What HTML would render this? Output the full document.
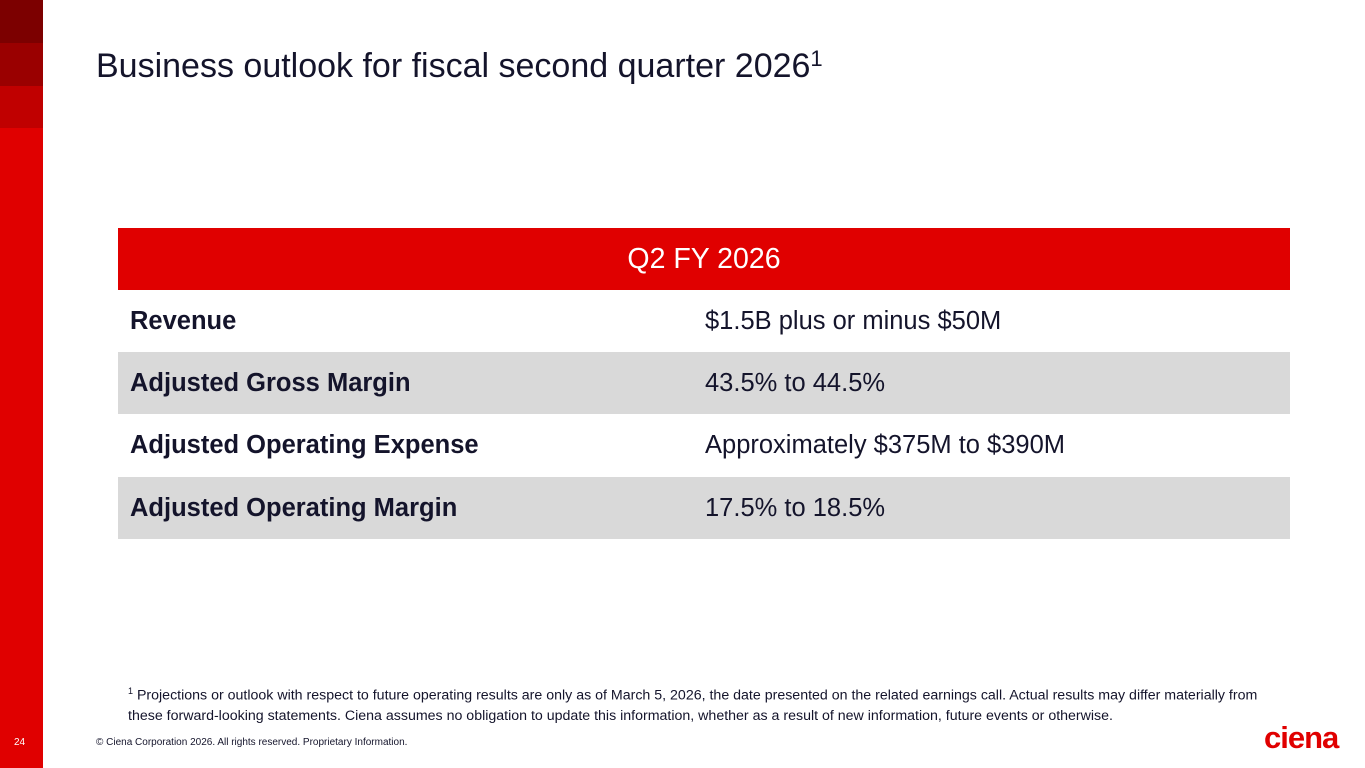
<!DOCTYPE html>
<html><head><meta charset="utf-8"><style>
body{margin:0;width:1365px;height:768px;position:relative;background:#fff;font-family:"Liberation Sans",Arial,sans-serif;overflow:hidden}
.sb{position:absolute;left:0;width:43px}
.t{position:absolute;color:#14142b}
.row{position:absolute;left:118px;width:1172px;height:62px}
.row .a{position:absolute;left:12px;top:0;line-height:62px;font-size:25.5px;font-weight:bold;color:#14142b}
.row .b{position:absolute;left:705px;margin-left:-118px;top:0;line-height:62px;font-size:25.5px;color:#14142b}
</style></head><body>
<div class="sb" style="top:0;height:43px;background:#7c0000"></div>
<div class="sb" style="top:43px;height:43px;background:#9a0000"></div>
<div class="sb" style="top:86px;height:42px;background:#c00000"></div>
<div class="sb" style="top:128px;height:640px;background:#e00000"></div>
<div class="t" style="left:96px;top:46px;font-size:34px">Business outlook for fiscal second quarter 2026<sup style="font-size:22px;vertical-align:11px">1</sup></div>
<div style="position:absolute;left:118px;top:228px;width:1172px;height:62px;background:#e00000;color:#fff;font-size:28.5px;text-align:center;line-height:62px">Q2 FY 2026</div>
<div class="row" style="top:290px;background:#fff"><div class="a">Revenue</div><div class="b">$1.5B plus or minus $50M</div></div>
<div class="row" style="top:352px;background:#d9d9d9"><div class="a">Adjusted Gross Margin</div><div class="b">43.5% to 44.5%</div></div>
<div class="row" style="top:414px;background:#fff"><div class="a">Adjusted Operating Expense</div><div class="b">Approximately $375M to $390M</div></div>
<div class="row" style="top:477px;background:#d9d9d9"><div class="a">Adjusted Operating Margin</div><div class="b">17.5% to 18.5%</div></div>
<div class="t" style="left:128px;top:681px;width:1140px;font-size:14.2px;line-height:20px"><sup style="font-size:9px">1</sup> Projections or outlook with respect to future operating results are only as of March 5, 2026, the date presented on the related earnings call. Actual results may differ materially from these forward-looking statements. Ciena assumes no obligation to update this information, whether as a result of new information, future events or otherwise.</div>
<div style="position:absolute;left:14px;top:737px;font-size:10px;color:#fff">24</div>
<div class="t" style="left:96px;top:737px;font-size:10px">© Ciena Corporation 2026. All rights reserved. Proprietary Information.</div>
<div style="position:absolute;left:1264px;top:720px;font-size:31px;font-weight:bold;color:#e00000;letter-spacing:-1px">ciena<span style="font-size:6px">.</span></div>
</body></html>
